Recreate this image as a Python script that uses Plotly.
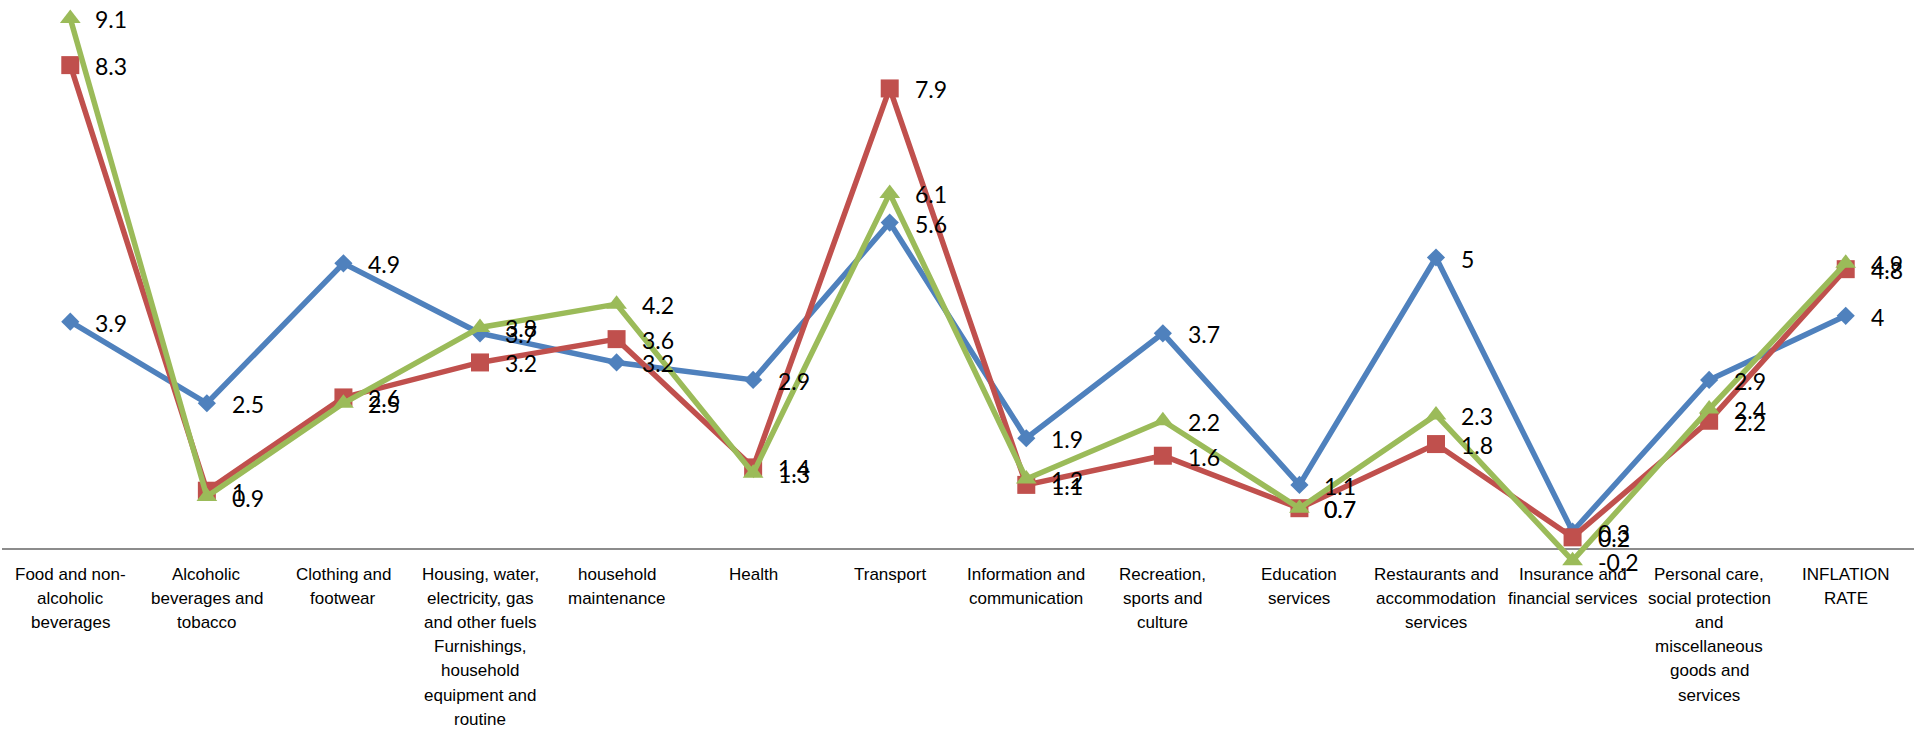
import plotly.graph_objects as go

categories = [
    "Food and non-<br>alcoholic<br>beverages",
    "Alcoholic<br>beverages and<br>tobacco",
    "Clothing and<br>footwear",
    "Housing, water,<br>electricity, gas<br>and other fuels<br>Furnishings,<br>household<br>equipment and<br>routine",
    "household<br>maintenance",
    "Health",
    "Transport",
    "Information and<br>communication",
    "Recreation,<br>sports and<br>culture",
    "Education<br>services",
    "Restaurants and<br>accommodation<br>services",
    "Insurance and<br>financial services",
    "Personal care,<br>social protection<br>and<br>miscellaneous<br>goods and<br>services",
    "INFLATION<br>RATE",
]

series_a = [3.9, 2.5, 4.9, 3.7, 3.2, 2.9, 5.6, 1.9, 3.7, 1.1, 5, 0.3, 2.9, 4]
series_b = [8.3, 1, 2.6, 3.2, 3.6, 1.4, 7.9, 1.1, 1.6, 0.7, 1.8, 0.2, 2.2, 4.8]
series_c = [9.1, 0.9, 2.5, 3.8, 4.2, 1.3, 6.1, 1.2, 2.2, 0.7, 2.3, -0.2, 2.4, 4.9]

x = list(range(len(categories)))

styles = [
    (series_a, "#4F81BD", "diamond", 14),
    (series_b, "#C0504D", "square", 18),
    (series_c, "#9BBB59", "triangle-up", 18),
]

fig = go.Figure()
annotations = []
for values, color, symbol, msize in styles:
    fig.add_trace(go.Scatter(
        x=x, y=values, mode="lines+markers",
        line=dict(color=color, width=5.5),
        marker=dict(symbol=symbol, size=msize, color=color, line=dict(width=0)),
        showlegend=False, hoverinfo="skip",
    ))
    for xi, v in zip(x, values):
        annotations.append(dict(
            x=xi, y=v, xref="x", yref="y", text=f"{v:g}",
            showarrow=False, xanchor="left", yanchor="middle",
            xshift=23, yshift=-1,
            font=dict(family="Lato, Carlito, sans-serif", size=23, color="#000000"),
        ))

# Category labels below the plot, one annotation per text line
label_font = dict(family="Liberation Sans, Arial, sans-serif", size=17, color="#000000")
line_gap = 24.2
for xi, label in zip(x, categories):
    for k, part in enumerate(label.split("<br>")):
        annotations.append(dict(
            x=xi, y=0, xref="x", yref="paper", text=part,
            showarrow=False, xanchor="center", yanchor="middle",
            yshift=-(4 + line_gap * k), font=label_font,
        ))

fig.update_layout(
    width=1931, height=732,
    margin=dict(l=2, r=17, t=0, b=162),
    paper_bgcolor="white", plot_bgcolor="white",
    annotations=annotations,
)
fig.update_xaxes(
    range=[-0.5, len(categories) - 0.5],
    showticklabels=False, showgrid=False, zeroline=False, showline=False, ticks="",
)
fig.update_yaxes(
    range=[-0.36, 9.417], showgrid=False, showticklabels=False,
    zeroline=True, zerolinecolor="#8C8C8C", zerolinewidth=2, showline=False,
)

fig.write_html("out.html")
